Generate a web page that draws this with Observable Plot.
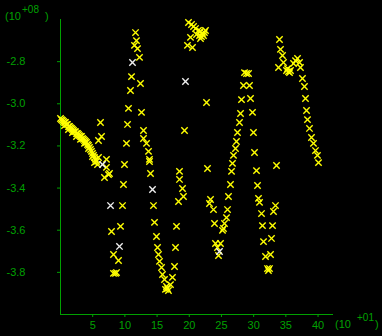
<!DOCTYPE html>
<html><head><meta charset="utf-8">
<script src="https://cdn.jsdelivr.net/npm/d3@7"></script>
<script src="https://cdn.jsdelivr.net/npm/@observablehq/plot@0.6"></script>
<style>html,body{margin:0;padding:0;background:#000;overflow:hidden}</style>
</head><body><div id="chart"></div>
<script>
// x in units of 10^1, y in units of 10^8
const xTicks = [5, 10, 15, 20, 25, 30, 35, 40];
const yTicks = [-2.8, -3.0, -3.2, -3.4, -3.6, -3.8];

const yellowX = [
  0,0.16,0.31,0.47,0.62,0.78,0.93,1.09,1.24,1.40,1.55,1.71,1.86,2.02,2.17,2.33,2.48,2.64,2.80,2.95,3.11,3.26,3.42,3.57,3.73,3.88,4.04,4.19,4.35,4.50,4.66,4.81,4.97,4.97,5.13,5.28,5.44,5.59,5.28,5.75,
  0.62,1.24,1.86,2.48,3.11,3.73,4.35,
  6.21,6.37,5.90,7.14,5.90,7.14,7.61,7.45,6.83,9.63,7.92,9.32,8.23,9.01,8.23,8.54,8.70,
  9.78,9.94,10.25,10.41,10.56,10.87,11.03,11.49,11.65,11.80,11.96,12.27,12.42,12.58,12.89,12.89,13.36,13.67,13.82,13.82,13.98,
  14.44,14.60,14.91,15.07,15.22,15.38,15.69,15.84,16.15,16.46,16.77,16.62,16.31,17.08,17.39,17.71,17.86,18.02,18.33,18.48,18.48,18.95,19.10,19.26,
  19.88,20.35,20.66,20.97,21.43,21.12,21.74,22.05,22.21,22.36,22.52,21.74,20.19,19.72,20.50,21.59,21.90,
  22.68,22.83,
  24.54,24.38,24.07,24.85,25.16,25.31,23.92,25.47,25.78,23.76,25.94,23.30,23.14,26.09,26.40,26.56,26.71,26.87,27.18,27.33,27.49,27.80,27.96,28.11,28.42,28.58,28.89,29.20,
  29.35,29.51,29.82,29.97,30.13,30.44,30.60,30.75,30.91,31.22,31.37,31.53,31.84,32.15,32.46,32.30,32.62,32.77,32.93,33.08,33.39,33.55,
  34.01,34.17,34.48,34.63,33.86,35.26,35.41,35.72,35.10,35.57,36.19,36.50,36.81,37.12,37.27,37.58,37.89,38.05,38.21,38.36,38.67,38.98,39.29,39.60,39.91,40.07
];
const yellowY = [
  -3.070,-3.075,-3.079,-3.084,-3.089,-3.089,-3.098,-3.098,-3.108,-3.108,-3.113,-3.117,-3.122,-3.127,-3.132,-3.132,-3.141,-3.141,-3.146,-3.151,-3.155,-3.155,-3.165,-3.169,-3.174,-3.179,-3.184,-3.193,-3.198,-3.207,-3.217,-3.226,-3.236,-3.250,-3.245,-3.255,-3.264,-3.274,-3.279,-3.288,
  -3.103,-3.122,-3.136,-3.155,-3.169,-3.188,-3.212,
  -3.089,-3.155,-3.174,-3.264,-3.255,-3.302,-3.331,-3.336,-3.350,-3.483,-3.606,-3.582,-3.715,-3.744,-3.805,-3.805,-3.801,
  -3.383,-3.288,-3.188,-3.098,-3.022,-2.937,-2.871,-2.723,-2.662,-2.700,-2.738,-2.780,-2.904,-3.041,-3.127,-3.165,-3.188,-3.226,-3.264,-3.274,-3.331,
  -3.483,-3.563,-3.630,-3.682,-3.715,-3.748,-3.777,-3.810,-3.834,-3.867,-3.886,-3.877,-3.881,-3.858,-3.824,-3.772,-3.682,-3.582,-3.464,-3.359,-3.321,-3.402,-3.440,-3.127,
  -2.614,-2.624,-2.633,-2.643,-2.652,-2.671,-2.657,-2.666,-2.676,-2.662,-2.652,-2.690,-2.685,-2.723,-2.733,-2.676,-2.681,
  -2.994,-3.307,
  -3.720,-3.682,-3.663,-3.663,-3.601,-3.592,-3.568,-3.568,-3.540,-3.502,-3.502,-3.454,-3.473,-3.440,-3.383,-3.321,-3.283,-3.245,-3.212,-3.179,-3.136,-3.089,-3.046,-2.980,-2.913,-2.852,-2.856,-2.856,
  -2.913,-2.975,-3.041,-3.136,-3.231,-3.317,-3.388,-3.449,-3.468,-3.521,-3.578,-3.654,-3.725,-3.782,-3.782,-3.791,-3.715,-3.639,-3.578,-3.511,-3.483,-3.293,
  -2.695,-2.742,-2.771,-2.804,-2.828,-2.833,-2.847,-2.842,-2.842,-2.852,-2.809,-2.795,-2.785,-2.804,-2.828,-2.880,-2.918,-2.975,-3.032,-3.075,-3.117,-3.160,-3.188,-3.222,-3.245,-3.279
];
const whiteX = [6.52, 7.77, 9.16, 11.18, 14.29, 19.41, 24.69];
const whiteY = [-3.288, -3.483, -3.677, -2.804, -3.407, -2.894, -3.701];

const yellow = yellowX.map((x, i) => ({x, y: yellowY[i]}));
const white = whiteX.map((x, i) => ({x, y: whiteY[i]}));

const green = "#00a000";
const chart = Plot.plot({
  width: 382, height: 336,
  marginLeft: 60, marginRight: 49, marginTop: 19, marginBottom: 22,
  style: {background: "#000", color: green, fontFamily: "Liberation Sans", fontSize: "11px"},
  x: {domain: [0, 42.4], label: null},
  y: {domain: [-4.0, -2.6], label: null},
  marks: [
    Plot.axisX({ticks: xTicks, tickSize: 3, tickPadding: 4, tickFormat: d => String(d), stroke: green, fill: green, label: null}),
    Plot.axisY({ticks: yTicks, tickSize: 3, tickFormat: () => "", stroke: green, label: null}),
    Plot.text(yTicks, {y: d => d, frameAnchor: "left", text: d => d.toFixed(1), textAnchor: "start", dx: -54, fill: green}),
    Plot.ruleX([0], {stroke: green}),
    Plot.ruleY([-4.0], {stroke: green}),
    Plot.dot(yellow, {x: "x", y: "y", symbol: "times", r: 3, stroke: "#ffff00", strokeWidth: 1.4}),
    Plot.dot(white, {x: "x", y: "y", symbol: "times", r: 3, stroke: "#eeeeee", strokeWidth: 1.4})
  ]
});
document.getElementById("chart").appendChild(chart);

const svg = d3.select(chart);
function label(parts) {
  parts.forEach(p => {
    svg.append("text").attr("x", p.x).attr("y", p.y).attr("fill", green)
      .attr("text-anchor", "start")
      .attr("font-family", "Liberation Sans").attr("font-size", p.s || 11).text(p.t);
  });
}
label([{t: "(10", x: 5, y: 20}, {t: "+08", x: 22, y: 13, s: 10}, {t: ")", x: 45, y: 20}]);
label([{t: "(10", x: 335, y: 328}, {t: "+01", x: 357, y: 321, s: 10}, {t: ")", x: 375, y: 328}]);
</script>
</body></html>
